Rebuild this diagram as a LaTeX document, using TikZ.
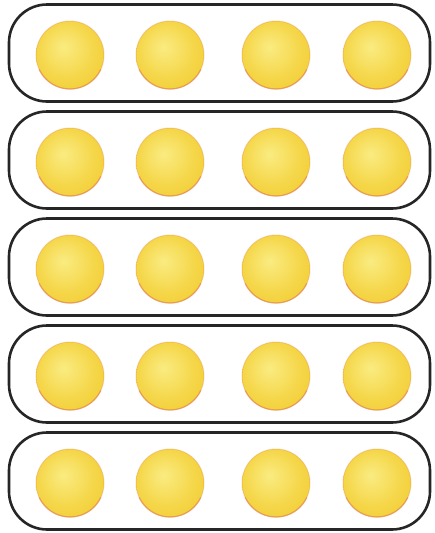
\documentclass[tikz,border=0pt]{standalone}
\usepackage{tikz}
\definecolor{sunlight}{RGB}{250,236,130}
\definecolor{sungold}{RGB}{240,194,20}
\definecolor{sunrim}{RGB}{226,130,70}
\pgfdeclareradialshading{sunball}{\pgfpoint{-5bp}{6bp}}{color(0bp)=(sunlight); color(20bp)=(sunlight!50!sungold); color(50bp)=(sungold)}

\begin{document}
\begin{tikzpicture}[x=0.5mm,y=-0.5mm]
        \useasboundingbox (0,0) rectangle (435,533);
        \foreach \r in {0,1,...,4} {
            \pgfmathsetmacro{\yc}{53+107*\r}
            \draw[line width=1.3mm,black!85,rounded corners=19mm] (9,\yc-48.5) rectangle (430,\yc+48.5);
            \foreach \xc in {70,170,276,377} {
                \shade[shading=sunball] (\xc,\yc+2) circle (34);
                \draw[sunrim,opacity=0.3,line width=0.5mm] (\xc,\yc+2) circle (34);
                \draw[sunrim,opacity=0.6,line width=0.6mm] (\xc,\yc+2) ++(25:34) arc (25:155:34);
            }
        }
    \end{tikzpicture}
\end{document}
